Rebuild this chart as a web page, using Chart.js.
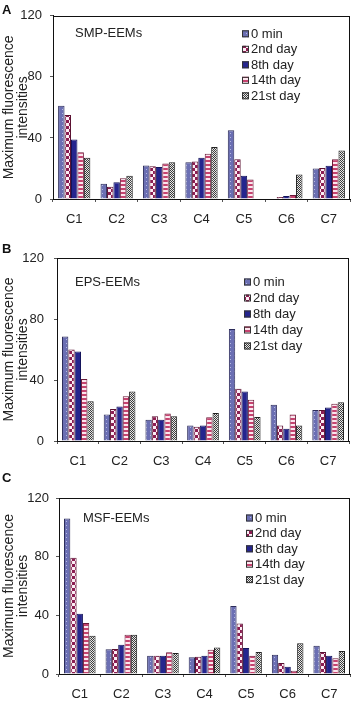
<!DOCTYPE html>
<html>
<head>
<meta charset="utf-8">
<script src="https://cdn.jsdelivr.net/npm/chart.js@4.4.1/dist/chart.umd.min.js"></script>
<style>
  html, body { margin: 0; padding: 0; background: #fff; }
  #wrap { position: relative; width: 352px; height: 711px; overflow: hidden; }
  .panel { position: absolute; left: 0; width: 352px; }
  canvas { display: block; }
</style>
</head>
<body>
<div id="wrap">
  <div class="panel" style="top:0px;"><canvas id="chartA" width="352" height="234"></canvas></div>
  <div class="panel" style="top:234px;"><canvas id="chartB" width="352" height="234"></canvas></div>
  <div class="panel" style="top:468px;"><canvas id="chartC" width="352" height="243"></canvas></div>
</div>
<script>
// categories + series
const categories = ['C1', 'C2', 'C3', 'C4', 'C5', 'C6', 'C7'];
const seriesLabels = ['0 min', '2nd day', '8th day', '14th day', '21st day'];
const yTicks = [0, 40, 80, 120];

// A: SMP-EEMs
const smp0min  = [61, 10, 22, 24, 45, 0, 20];
const smp2nd   = [55, 8, 21.5, 24.5, 26, 1.3, 20.3];
const smp8th   = [39, 11, 21, 27, 15.3, 2, 21.8];
const smp14th  = [30.6, 13.6, 23.3, 29.6, 12.7, 2.6, 26];
const smp21st  = [27, 15.3, 24, 34, 0, 16, 31.7];

// B: EPS-EEMs
const eps0min  = [68.5, 17.3, 14, 10.1, 73.4, 23.7, 20.3];
const eps2nd   = [60, 21, 16.2, 9.3, 34.3, 10.1, 20.3];
const eps8th   = [58.7, 22.6, 14, 10.1, 32.4, 8, 21.9];
const eps14th  = [40.7, 29.3, 18, 15.6, 27.1, 17.3, 24.4];
const eps21st  = [26, 32.4, 16.2, 18.4, 15.8, 10.1, 25.4];

// C: MSF-EEMs
const msf0min  = [106, 16.8, 12.5, 11.4, 46.3, 13.2, 19.3];
const msf2nd   = [79.2, 17, 12.5, 11.8, 34.5, 7.5, 15];
const msf8th   = [41, 19.9, 12.5, 12.5, 17.8, 5, 12.5];
const msf14th  = [34.7, 26.7, 14.8, 16.6, 12.5, 2.3, 10.8];
const msf21st  = [26, 26.7, 14.4, 18, 15, 21, 15.6];

const TEXT = '#222';
const FONT = "'Liberation Sans', Arial, sans-serif";

// bar fills (old excel style patterns)
function makePattern(kind) {
    const t = document.createElement('canvas');
    const c = t.getContext('2d');
    if (kind === 'dots') {
        t.width = 4; t.height = 4;
        c.fillStyle = '#6b6fb3'; c.fillRect(0, 0, 4, 4);
        c.fillStyle = '#b4b8e0'; c.fillRect(2, 1, 1, 1);
    } else if (kind === 'check') {
        t.width = 6; t.height = 6;
        c.fillStyle = '#fbeef4'; c.fillRect(0, 0, 6, 6);
        c.fillStyle = '#8c1d52'; c.fillRect(0, 0, 3, 3); c.fillRect(3, 3, 3, 3);
    } else if (kind === 'hstripe') {
        t.width = 4; t.height = 4;
        c.fillStyle = '#fbe6ee'; c.fillRect(0, 0, 4, 4);
        c.fillStyle = '#c6426f'; c.fillRect(0, 0, 4, 2);
    } else if (kind === 'fine') {
        t.width = 2; t.height = 2;
        c.fillStyle = '#e6e6e6'; c.fillRect(0, 0, 2, 2);
        c.fillStyle = '#3c3c3c'; c.fillRect(0, 0, 1, 1); c.fillRect(1, 1, 1, 1);
    }
    return c.createPattern(t, 'repeat');
}

const fills = [makePattern('dots'), makePattern('check'), '#25258e', makePattern('hstripe'), makePattern('fine')];
const edges = ['#2c2c5a', '#5a1030', '#14145a', '#6a1a38', '#222'];

const panelDecor = {
    id: 'panelDecor',
    afterDraw(chart, args, o) {
        const { ctx, chartArea: a } = chart;
        ctx.save();
        // frame
        ctx.strokeStyle = '#111';
        ctx.lineWidth = 1;
        ctx.strokeRect(Math.round(a.left) + 0.5, Math.round(a.top) + 0.5, Math.round(a.right - a.left) - 1, Math.round(a.bottom - a.top));
        // panel letter
        ctx.fillStyle = '#111';
        ctx.font = 'bold 13px ' + FONT;
        ctx.textBaseline = 'middle';
        ctx.fillText(o.letter, 2, o.letterY);
        // inner title
        ctx.fillStyle = TEXT;
        ctx.font = '13px ' + FONT;
        ctx.fillText(o.name, a.left + o.nameDx, a.top + o.nameDy);
        // legend
        const lx = a.right - o.legRight;
        chart.data.datasets.forEach((ds, i) => {
            const y = a.top + o.legTop + i * o.legRow;
            ctx.fillStyle = ds.backgroundColor;
            ctx.fillRect(lx, y - 3.5, 7, 7);
            ctx.strokeStyle = '#333';
            ctx.strokeRect(lx + 0.5, y - 3, 6, 6);
            ctx.fillStyle = TEXT;
            ctx.fillText(ds.label, lx + 9, y + 0.5);
        });
        ctx.restore();
    }
};

function buildChart(id, series, deco, box) {
    const datasets = series.map((vals, i) => ({
        label: seriesLabels[i],
        data: vals,
        backgroundColor: fills[i],
        borderColor: edges[i],
        borderWidth: 1,
        borderSkipped: 'bottom'
    }));
    const canvas = document.getElementById(id);
    return new Chart(canvas, {
        type: 'bar',
        data: { labels: categories, datasets },
        plugins: [panelDecor],
        options: {
            responsive: false,
            animation: false,
            events: [],
            layout: { padding: { top: box.top, right: 352 - box.right, left: 0, bottom: 0 } },
            datasets: { bar: { categoryPercentage: 0.76, barPercentage: 1.0 } },
            plugins: {
                legend: { display: false },
                tooltip: { enabled: false },
                panelDecor: deco
            },
            scales: {
                x: {
                    grid: { display: true, drawOnChartArea: false, tickLength: 3, color: '#555' },
                    border: { display: true, color: '#111', width: 1 },
                    ticks: { color: TEXT, padding: 10, font: { family: FONT, size: 13 } },
                    afterFit: (s) => { s.height = canvas.height - box.bottom; }
                },
                y: {
                    min: 0,
                    max: 120,
                    afterBuildTicks: (s) => { s.ticks = yTicks.map(v => ({ value: v })); },
                    grid: { display: true, drawOnChartArea: false, tickLength: 3, color: '#555' },
                    border: { display: true, color: '#111', width: 1 },
                    ticks: { color: TEXT, padding: box.tickPad, font: { family: FONT, size: 13 } },
                    title: {
                        display: true,
                        text: ['Maximum fluorescence', 'intensities'],
                        color: TEXT,
                        font: { family: FONT, size: 14, lineHeight: '14px' },
                        padding: { top: 2, bottom: 0 }
                    },
                    afterFit: (s) => { s.width = box.left; }
                }
            }
        }
    });
}

buildChart('chartA', [smp0min, smp2nd, smp8th, smp14th, smp21st],
    { letter: 'A', letterY: 10, name: 'SMP-EEMs', nameDx: 22, nameDy: 18, legRight: 108, legTop: 18, legRow: 15.5 },
    { left: 53, right: 350, top: 14, bottom: 199, tickPad: 8 });

buildChart('chartB', [eps0min, eps2nd, eps8th, eps14th, eps21st],
    { letter: 'B', letterY: 15, name: 'EPS-EEMs', nameDx: 18, nameDy: 24, legRight: 105, legTop: 24, legRow: 16 },
    { left: 57, right: 349, top: 24, bottom: 207, tickPad: 10 });

buildChart('chartC', [msf0min, msf2nd, msf8th, msf14th, msf21st],
    { letter: 'C', letterY: 10, name: 'MSF-EEMs', nameDx: 24, nameDy: 20, legRight: 104, legTop: 20, legRow: 15.4 },
    { left: 59, right: 350, top: 30, bottom: 206, tickPad: 7 });
</script>
</body>
</html>
